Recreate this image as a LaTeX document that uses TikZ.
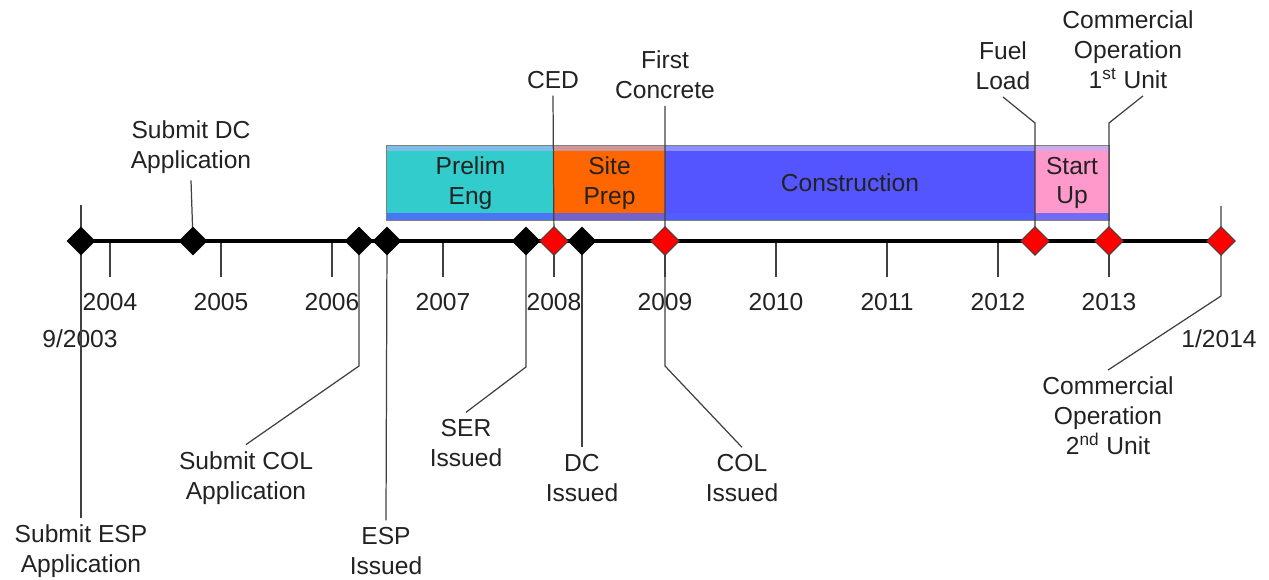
\documentclass[tikz,border=0pt]{standalone}
\usepackage{fontspec}
\setmainfont{Liberation Sans}
\usetikzlibrary{
  shapes.geometric,
  positioning
}
\definecolor{PrelimTeal}{RGB}{51,204,204}
\definecolor{SiteOrange}{RGB}{255,102,0}
\definecolor{BuildBlue}{RGB}{85,85,255}
\definecolor{StartPink}{RGB}{255,153,204}
\definecolor{PlantRed}{RGB}{255,0,0}
\definecolor{LabelGray}{RGB}{34,34,34}
\definecolor{LeaderGray}{RGB}{64,64,64}
\definecolor{StripBlue}{RGB}{80,96,255}
\tikzset{
  evtext/.style={font=\fontsize{14}{17}\selectfont,text=LabelGray,align=center,inner sep=1pt,outer sep=3pt},
  yeartext/.style={font=\fontsize{14}{17}\selectfont,text=LabelGray,inner sep=1pt},
  licdate/.style={diamond,fill=black,minimum width=0.58cm,minimum height=0.58cm,inner sep=0pt},
  plantdate/.style={diamond,draw=LeaderGray,line width=0.5pt,fill=PlantRed,minimum width=0.58cm,minimum height=0.58cm,inner sep=0pt},
  leader/.style={draw=LeaderGray,line width=0.7pt},
  yeartick/.style={draw=LeaderGray,line width=0.8pt},
  axisline/.style={draw=black,line width=2.8pt},
  phase/.style={minimum height=1.48cm,inner sep=0pt,align=center,font=\fontsize{14}{17}\selectfont,text=LabelGray,
    path picture={
      \fill[StripBlue!45!white,opacity=.6] (path picture bounding box.north west) rectangle ([yshift=-0.1cm]path picture bounding box.north east);
      \fill[StripBlue,opacity=.8] (path picture bounding box.south west) rectangle ([yshift=0.14cm]path picture bounding box.south east);
    }}
}

\begin{document}
\begin{tikzpicture}[x=0.02cm,y=-0.02cm]
\useasboundingbox (0,0) rectangle (1269,580);
% milestone positions on the time line
\coordinate (ev03) at (81,241);
\coordinate (ev04) at (193,241);
\coordinate (ev06a) at (359,241);
\coordinate (ev06b) at (387,241);
\coordinate (ev07) at (526,241);
\coordinate (ev08) at (554,241);
\coordinate (ev08b) at (582,241);
\coordinate (ev09) at (665,241);
\coordinate (ev12) at (1035,241);
\coordinate (ev13) at (1109,241);
\coordinate (ev14) at (1221,241);
\coordinate (espsubtop) at (81,205);
\coordinate (co2top) at (1221,206);
% project phases
\node[phase,fill=PrelimTeal,minimum width=3.34cm] (prelim) at (470.5,183) {Prelim\\Eng};
\node[phase,fill=SiteOrange,minimum width=2.22cm] (siteprep) at (609.5,183) {Site\\Prep};
\node[phase,fill=BuildBlue,minimum width=7.4cm] (build) at (850,183) {Construction};
\node[phase,fill=StartPink,minimum width=1.48cm] (startup) at (1072,183) {Start\\Up};
\draw[gray,line width=0.6pt] (prelim.north west) rectangle (startup.south east);
% years
\foreach \yr [count=\i from 0] in {2004,...,2013} {
  \draw[yeartick] (110+111*\i,241) -- ++(0,36);
  \node[yeartext] (y\yr) at (110+111*\i,302) {\yr};
}
\node[yeartext] (date03) at (80,339) {9/2003};
\node[yeartext] (date14) at (1219,339) {1/2014};
% labels
\node[evtext] (espsub) at (81,551) {Submit ESP\\Application};
\node[evtext] (dcsub) at (191,147) {Submit DC\\Application};
\node[evtext] (colsub) at (246,478) {Submit COL\\Application};
\node[evtext] (espiss) at (386,551) {ESP\\Issued};
\node[evtext] (seriss) at (466,443) {SER\\Issued};
\node[evtext] (dciss) at (582,478) {DC\\Issued};
\node[evtext] (coliss) at (742,478) {COL\\Issued};
\node[evtext] (ced) at (553,80) {CED};
\node[evtext] (fc) at (665,75) {First\\Concrete};
\node[evtext] (fuel) at (1003,66) {Fuel\\Load};
\node[evtext] (co1) at (1128,50) {Commercial\\Operation\\1\textsuperscript{st} Unit};
\node[evtext] (co2) at (1108,416) {Commercial\\Operation\\2\textsuperscript{nd} Unit};
% leaders
\draw[leader] (espsubtop) -- (espsub.north);
\draw[leader] (dcsub.south) -- (ev04);
\draw[leader] (ev06a) -- ++(0,125) -- (colsub.north);
\draw[leader] (ev06b) -- (espiss.north);
\draw[leader] (ev07) -- ++(0,126) -- (seriss.north);
\draw[leader] (ced.south) -- (ev08);
\draw[leader] (ev08b) -- (dciss.north);
\draw[leader] (fc.south) -- (ev09) -- ++(0,125) -- (coliss.north);
\draw[leader] (ev12) -- ++(0,-118) -- (fuel.south);
\draw[leader] (ev13) -- ++(0,-118) -- ([xshift=0.3cm]co1.south);
\draw[leader] (co2top) -- (ev14) -- ++(0,55) -- (co2.north);
% time line
\draw[axisline] (ev03) -- (ev14);
\node[licdate] (d03) at (ev03) {};
\node[licdate] (d04) at (ev04) {};
\node[licdate] (d06a) at (ev06a) {};
\node[licdate] (d06b) at (ev06b) {};
\node[licdate] (d07) at (ev07) {};
\node[licdate] (d08b) at (ev08b) {};
\node[plantdate] (d08) at (ev08) {};
\node[plantdate] (d09) at (ev09) {};
\node[plantdate] (d12) at (ev12) {};
\node[plantdate] (d13) at (ev13) {};
\node[plantdate] (d14) at (ev14) {};
\end{tikzpicture}
\end{document}
